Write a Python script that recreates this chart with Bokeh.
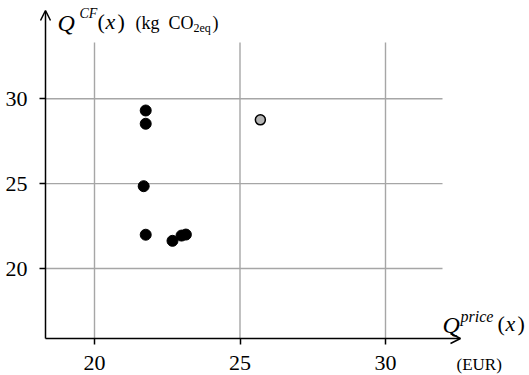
from bokeh.plotting import figure
from bokeh.models import Label, Arrow, OpenHead, FixedTicker
from bokeh.embed import file_html
from bokeh.resources import INLINE

# ---- data ----
price_black = [21.76, 21.76, 21.69, 21.76, 22.68, 22.99, 23.14]
cf_black = [29.31, 28.53, 24.85, 21.99, 21.63, 21.94, 22.00]
price_gray = [25.70]
cf_gray = [28.76]
x_ticks = [20, 25, 30]
y_ticks = [20, 25, 30]

# ---- layout ----
W, H = 529, 375
PX_X = 29.1
PX_Y = 16.97
X_START = 20 - 94 / PX_X
X_END = X_START + W / PX_X
Y_END = 20 + 268 / PX_Y
Y_START = Y_END - H / PX_Y


def dx(px):
    return X_START + px / PX_X


def dy(py):
    return Y_END - py / PX_Y


X_AXIS_Y = dy(338)
Y_AXIS_X = dx(45)

p = figure(width=W, height=H, x_range=(X_START, X_END), y_range=(Y_START, Y_END),
           output_backend="svg", toolbar_location=None, min_border=0,
           background_fill_color="white", border_fill_color="white",
           outline_line_color=None)
p.grid.visible = False

FONT = "Liberation Serif"

for ax, loc in ((p.xaxis[0], X_AXIS_Y), (p.yaxis[0], Y_AXIS_X)):
    ax.fixed_location = loc
    ax.axis_line_color = None
    ax.major_tick_out = 6
    ax.major_tick_in = 0
    ax.major_tick_line_width = 1.5
    ax.major_tick_line_color = "black"
    ax.minor_tick_line_color = None
    ax.major_label_text_font = FONT
    ax.major_label_text_font_size = "22px"
    ax.major_label_text_color = "black"

p.xaxis.ticker = FixedTicker(ticks=x_ticks)
p.yaxis.ticker = FixedTicker(ticks=y_ticks)
p.xaxis.major_label_standoff = 11
p.yaxis.major_label_standoff = 12

GRID = "#a6a6a6"
p.segment(x0=x_ticks, y0=[X_AXIS_Y] * len(x_ticks), x1=x_ticks, y1=[dy(42)] * len(x_ticks),
          line_color=GRID, line_width=1.4)
p.segment(x0=[Y_AXIS_X] * len(y_ticks), y0=y_ticks, x1=[dx(442)] * len(y_ticks), y1=y_ticks,
          line_color=GRID, line_width=1.4)

p.add_layout(Arrow(end=OpenHead(size=10, line_width=1.5, line_color="black"),
                   x_start=Y_AXIS_X, y_start=X_AXIS_Y, x_end=dx(460), y_end=X_AXIS_Y,
                   line_width=1.5, line_color="black"))
p.add_layout(Arrow(end=OpenHead(size=10, line_width=1.5, line_color="black"),
                   x_start=Y_AXIS_X, y_start=X_AXIS_Y, x_end=Y_AXIS_X, y_end=dy(10),
                   line_width=1.5, line_color="black"))

p.scatter(price_black, cf_black, marker="circle", size=11,
          fill_color="black", line_color="black")
p.scatter(price_gray, cf_gray, marker="circle", size=10,
          fill_color="#b4b4b4", line_color="black", line_width=1.5)


def lab(text, px, py, size, italic=False):
    p.add_layout(Label(x=dx(px), y=dy(py), text=text, text_font=FONT,
                       text_font_size=f"{size}px",
                       text_font_style="italic" if italic else "normal",
                       text_align="left", text_baseline="alphabetic",
                       text_color="black"))


# y-axis title: Q^CF(x) (kg CO2eq)
lab("Q", 57, 22, 24, True)
lab("CF", 79, 13, 14, True)
lab("(", 97, 21, 22)
lab("x", 105, 21, 22, True)
lab(")", 117, 21, 22)
lab("(kg", 135, 22, 18)
lab("CO", 168, 22, 18)
lab("2eq", 193, 27, 12)
lab(")", 212, 22, 18)

# x-axis title: Q^price(x) (EUR)
lab("Q", 442, 324, 24, True)
lab("price", 460, 316, 16, True)
lab("(", 497, 323, 22)
lab("x", 505, 323, 22, True)
lab(")", 517, 323, 22)
lab("(EUR)", 456, 364, 17)

open("out.html", "w").write(file_html(p, INLINE))
